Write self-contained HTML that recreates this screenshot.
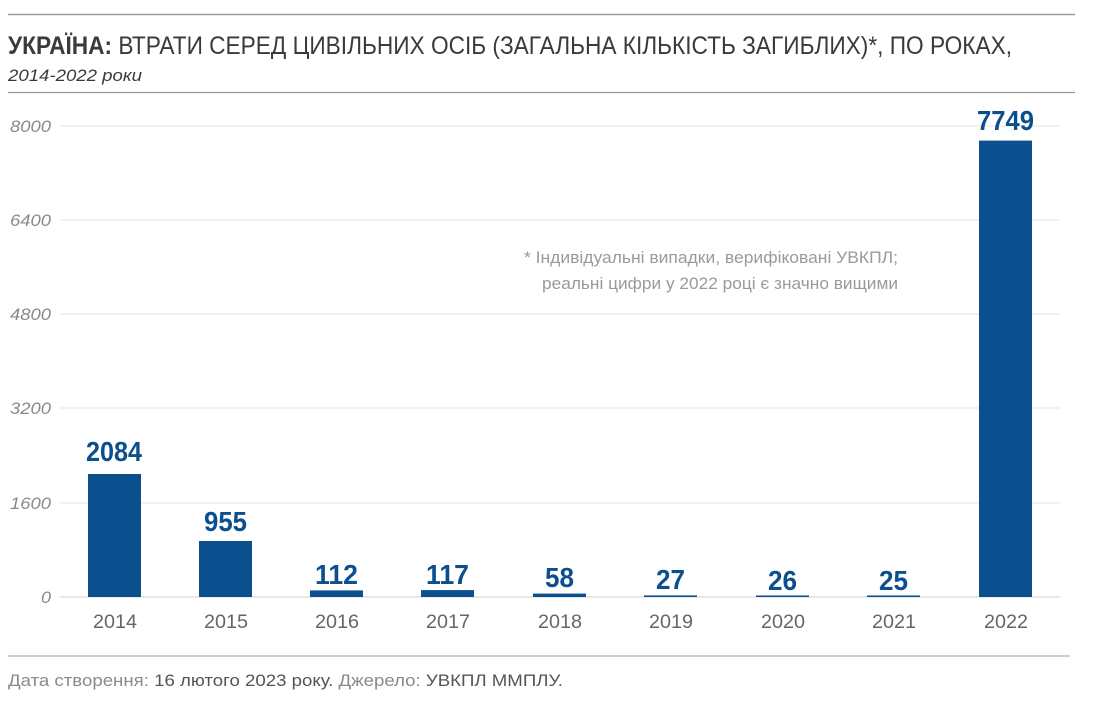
<!DOCTYPE html>
<html><head><meta charset="utf-8"><style>
html,body{margin:0;padding:0;background:#fff;}
svg{display:block;font-family:"Liberation Sans",sans-serif;}
</style></head><body>
<svg width="1094" height="706" viewBox="0 0 1094 706">
<line x1="8" y1="14.5" x2="1075" y2="14.5" stroke="#9a9a9a" stroke-width="1.5"/>
<text x="8" y="54" font-size="25" fill="#3a3a3a" textLength="1004" lengthAdjust="spacingAndGlyphs"><tspan font-weight="bold">УКРАЇНА:</tspan> ВТРАТИ СЕРЕД ЦИВІЛЬНИХ ОСІБ (ЗАГАЛЬНА КІЛЬКІСТЬ ЗАГИБЛИХ)*, ПО РОКАХ,</text>
<text x="8" y="81" font-size="17" font-style="italic" fill="#3a3a3a" textLength="134" lengthAdjust="spacingAndGlyphs">2014-2022 роки</text>
<line x1="8" y1="92.5" x2="1075" y2="92.5" stroke="#9a9a9a" stroke-width="1.2"/>
<g stroke="#e3e3e3" stroke-width="1">
<line x1="60" y1="126" x2="1060" y2="126"/>
<line x1="60" y1="220" x2="1060" y2="220"/>
<line x1="60" y1="314" x2="1060" y2="314"/>
<line x1="60" y1="408" x2="1060" y2="408"/>
<line x1="60" y1="503" x2="1060" y2="503"/>
<line x1="60" y1="597" x2="1060" y2="597" stroke="#d0d0d0"/>
</g>
<g font-size="17" font-style="italic" fill="#8a8a8a">
<text x="10" y="132" textLength="41" lengthAdjust="spacingAndGlyphs">8000</text>
<text x="10" y="226" textLength="41" lengthAdjust="spacingAndGlyphs">6400</text>
<text x="10" y="320" textLength="41" lengthAdjust="spacingAndGlyphs">4800</text>
<text x="10" y="414" textLength="41" lengthAdjust="spacingAndGlyphs">3200</text>
<text x="10" y="509" textLength="41" lengthAdjust="spacingAndGlyphs">1600</text>
<text x="41" y="603" textLength="10" lengthAdjust="spacingAndGlyphs">0</text>
</g>
<g fill="#0b4f8e">
<rect x="88" y="474" width="53" height="123"/>
<rect x="199" y="541" width="53" height="56"/>
<rect x="310" y="590.4" width="53" height="6.6"/>
<rect x="421" y="590.1" width="53" height="6.9"/>
<rect x="533" y="593.6" width="53" height="3.4"/>
<rect x="644" y="595.4" width="53" height="1.6"/>
<rect x="756" y="595.5" width="53" height="1.5"/>
<rect x="867" y="595.5" width="53" height="1.5"/>
<rect x="979" y="140.6" width="53" height="456.4"/>
</g>
<g font-size="28" font-weight="bold" fill="#0b4f8e">
<text x="86" y="461" textLength="56" lengthAdjust="spacingAndGlyphs">2084</text>
<text x="204" y="531" textLength="43" lengthAdjust="spacingAndGlyphs">955</text>
<text x="315" y="584" textLength="43" lengthAdjust="spacingAndGlyphs">112</text>
<text x="426" y="584" textLength="43" lengthAdjust="spacingAndGlyphs">117</text>
<text x="545" y="587" textLength="29" lengthAdjust="spacingAndGlyphs">58</text>
<text x="656" y="589" textLength="29" lengthAdjust="spacingAndGlyphs">27</text>
<text x="768" y="590" textLength="29" lengthAdjust="spacingAndGlyphs">26</text>
<text x="879" y="590" textLength="29" lengthAdjust="spacingAndGlyphs">25</text>
<text x="977" y="130" textLength="57" lengthAdjust="spacingAndGlyphs">7749</text>
</g>
<g font-size="19" fill="#666">
<text x="93" y="628" textLength="44" lengthAdjust="spacingAndGlyphs">2014</text>
<text x="204" y="628" textLength="44" lengthAdjust="spacingAndGlyphs">2015</text>
<text x="315" y="628" textLength="44" lengthAdjust="spacingAndGlyphs">2016</text>
<text x="426" y="628" textLength="44" lengthAdjust="spacingAndGlyphs">2017</text>
<text x="538" y="628" textLength="44" lengthAdjust="spacingAndGlyphs">2018</text>
<text x="649" y="628" textLength="44" lengthAdjust="spacingAndGlyphs">2019</text>
<text x="761" y="628" textLength="44" lengthAdjust="spacingAndGlyphs">2020</text>
<text x="872" y="628" textLength="44" lengthAdjust="spacingAndGlyphs">2021</text>
<text x="984" y="628" textLength="44" lengthAdjust="spacingAndGlyphs">2022</text>
</g>
<g font-size="17" fill="#9a9a9a">
<text x="524" y="263" textLength="374" lengthAdjust="spacingAndGlyphs">* Індивідуальні випадки, верифіковані УВКПЛ;</text>
<text x="542" y="289" textLength="356" lengthAdjust="spacingAndGlyphs">реальні цифри у 2022 році є значно вищими</text>
</g>
<line x1="8" y1="656" x2="1070" y2="656" stroke="#b0b0b0" stroke-width="1.2"/>
<text x="8" y="686" font-size="17" fill="#8a8a8a" textLength="555" lengthAdjust="spacingAndGlyphs">Дата створення: <tspan fill="#555">16 лютого 2023 року.</tspan>  Джерело: <tspan fill="#555">УВКПЛ ММПЛУ.</tspan></text>
</svg>
</body></html>
